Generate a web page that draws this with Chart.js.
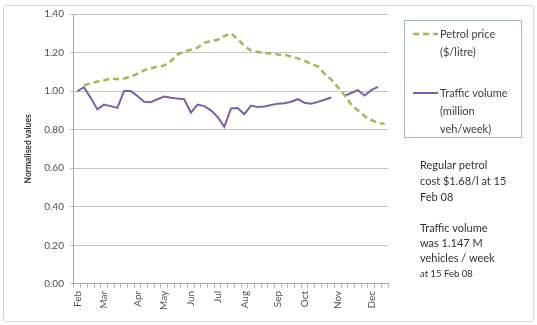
<!DOCTYPE html>
<html>
<head>
<meta charset="utf-8">
<script src="https://cdn.jsdelivr.net/npm/chart.js@4.4.1/dist/chart.umd.min.js"></script>
<style>
    body { margin: 0; background: #fff; font-family: Lato, 'Liberation Sans', sans-serif; color: #404040; }
    #wrap { position: relative; width: 537px; height: 325px; overflow: hidden; }
    #frame { position: absolute; left: 3px; top: 5px; width: 529px; height: 315px; border: 1px solid #d6d6d6; border-radius: 3px; }
    #chart { position: absolute; left: 0; top: 0; }
    #legend { position: absolute; left: 404px; top: 20px; width: 116px; height: 116px; border: 1px solid #a9b7cc; }
    .item { position: absolute; left: 8px; }
    .item svg { position: absolute; left: 0; }
    .item div { position: absolute; left: 27px; white-space: nowrap; font-size: 11px; line-height: 18px; }
    #note { position: absolute; left: 420px; top: 157px; font-size: 11px; line-height: 16px; color: #333; white-space: nowrap; }
    #note .small { font-size: 9.5px; }
</style>
</head>
<body>
<div id="wrap">
    <div id="frame"></div>
    <canvas id="chart" width="537" height="325"></canvas>
    <div id="legend"></div>
    <div id="note">
        Regular petrol<br>cost $1.68/l at 15<br>Feb 08
        <div style="margin-top:15px; line-height:15px;">Traffic volume<br>was 1.147 M<br>vehicles / week<br><span class="small">at 15 Feb 08</span></div>
    </div>
</div>
<script>
// weekly points, Feb to Dec 2008, normalised to 15 Feb 08
const monthNames = ['Feb', 'Mar', 'Apr', 'May', 'Jun', 'Jul', 'Aug', 'Sep', 'Oct', 'Nov', 'Dec'];
const monthStartWeek = [0, 4, 9, 13, 17, 21, 25, 30, 34, 39, 44];
const weekCount = 47;

const petrolPrice = [
    null, 1.03, 1.04, 1.05, 1.056, 1.065, 1.062, 1.065, 1.075, 1.09,
    1.108, 1.118, 1.127, 1.133, 1.155, 1.19, 1.205, 1.215, 1.225, 1.25,
    1.26, 1.266, 1.285, 1.30, 1.27, 1.235, 1.21, 1.203, 1.198, 1.195,
    1.19, 1.188, 1.18, 1.17, 1.158, 1.14, 1.128, 1.09, 1.06, 1.02,
    0.98, 0.93, 0.90, 0.87, 0.85, 0.835, 0.83
];
const trafficVolume = [
    1.00, 1.02, 0.965, 0.905, 0.93, 0.922, 0.913, 1.00, 1.00, 0.975,
    0.945, 0.942, 0.958, 0.972, 0.965, 0.961, 0.958, 0.888, 0.93, 0.922,
    0.90, 0.866, 0.815, 0.91, 0.912, 0.88, 0.925, 0.917, 0.92, 0.928,
    0.935, 0.937, 0.945, 0.958, 0.94, 0.935, 0.944, 0.955, 0.967, null,
    0.975, 0.99, 1.005, 0.977, 1.005, 1.022, null
];
const yTicks = { min: 0, max: 1.4, step: 0.2 };

const seriesInfo = [
    { label: 'Petrol price', lines: ['Petrol price', '($/litre)'], data: petrolPrice, color: '#a2b85e', dash: [6, 4], width: 2.5 },
    { label: 'Traffic volume', lines: ['Traffic volume', '(million', 'veh/week)'], data: trafficVolume, color: '#7b62a6', dash: [], width: 2 }
];

const weekLabels = [];
for (let i = 0; i < weekCount; i++) {
    const m = monthStartWeek.indexOf(i);
    weekLabels.push(m >= 0 ? monthNames[m] : '');
}

const font = "Lato, 'Liberation Sans', sans-serif";

new Chart(document.getElementById('chart'), {
    type: 'line',
    data: {
        labels: weekLabels,
        datasets: seriesInfo.map(s => ({
            label: s.label,
            data: s.data,
            borderColor: s.color,
            borderWidth: s.width,
            borderDash: s.dash,
            pointRadius: 0,
            tension: 0,
            spanGaps: false,
            fill: false
        }))
    },
    options: {
        responsive: false,
        animation: false,
        layout: { padding: { left: 23, right: 149, top: 14, bottom: 12 } },
        plugins: { legend: { display: false }, tooltip: { enabled: false } },
        scales: {
            x: {
                offset: true,
                grid: { offset: true, drawOnChartArea: false, drawTicks: true, tickLength: 4, color: '#b8b8b8' },
                border: { color: '#a6a6a6' },
                ticks: {
                    autoSkip: false, minRotation: 90, maxRotation: 90, padding: 3,
                    color: '#505050', font: { family: font, size: 10 }
                }
            },
            y: {
                min: yTicks.min,
                max: yTicks.max,
                grid: { color: '#c4c4c4', tickLength: 4 },
                border: { color: '#a6a6a6' },
                ticks: {
                    stepSize: yTicks.step, padding: 6,
                    color: '#505050', font: { family: font, size: 10 },
                    callback: v => v.toFixed(2)
                },
                title: {
                    display: true, text: 'Normalised values', color: '#333',
                    font: { family: font, size: 8.5, weight: 'bold' },
                    padding: { top: 0, bottom: 5 }
                }
            }
        }
    }
});

// html legend built from the series
const legend = document.getElementById('legend');
const legendTops = [4, 63];
seriesInfo.forEach((s, i) => {
    const item = document.createElement('div');
    item.className = 'item';
    item.style.top = legendTops[i] + 'px';
    item.innerHTML = `<svg width="25" height="18" style="top:0"><line x1="0" y1="9" x2="25" y2="9" stroke="${s.color}" stroke-width="${s.width}" stroke-dasharray="${s.dash.join(' ')}"/></svg>` +
        `<div>${s.lines.join('<br>')}</div>`;
    legend.appendChild(item);
});
</script>
</body>
</html>
